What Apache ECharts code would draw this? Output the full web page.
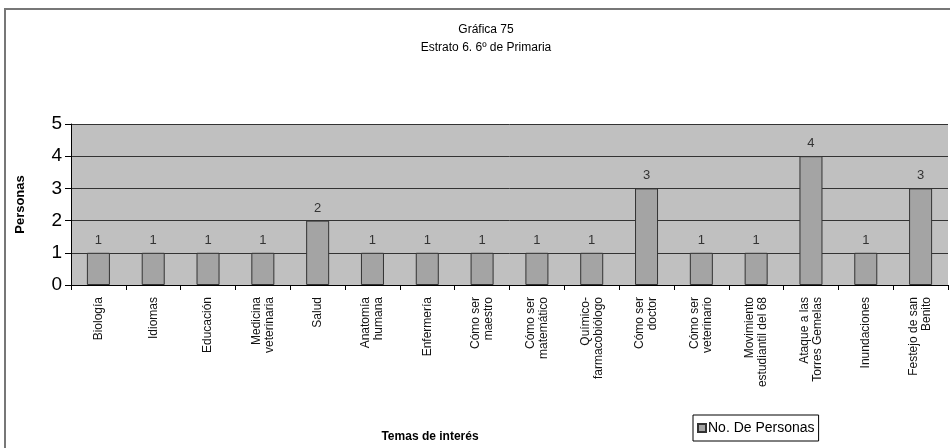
<!DOCTYPE html>
<html>
<head>
<meta charset="utf-8">
<script src="https://cdn.jsdelivr.net/npm/echarts@6/dist/echarts.min.js"></script>
<style>
html, body { margin:0; padding:0; background:#fff; }
#chart { width:950px; height:448px; }
</style>
</head>
<body>
<div id="chart"></div>
<script>
// Temas de interés
var temas = [
	'Biología', 'Idiomas', 'Educación', 'Medicina\nveterinaria', 'Salud',
	'Anatomía\nhumana', 'Enfermería', 'Cómo ser\nmaestro', 'Cómo ser\nmatemático',
	'Químico-\nfarmacobiólogo', 'Cómo ser\ndoctor', 'Cómo ser\nveterinario',
	'Movimiento\nestudiantil del 68', 'Ataque a las\nTorres Gemelas', 'Inundaciones',
	'Festejo de san\nBenito'
];
// No. De Personas
var personas = [1, 1, 1, 1, 2, 1, 1, 1, 1, 1, 3, 1, 1, 4, 1, 3];
var y_ticks = [0, 1, 2, 3, 4, 5];

var font = 'Liberation Sans, Arial, sans-serif';

var myChart = echarts.init(document.getElementById('chart'));
myChart.setOption({
	animation : false,
	title : {
		text : 'Gráfica 75\nEstrato 6. 6º de Primaria',
		left : 481,
		top : 16,
		textAlign : 'center',
		textStyle : { fontFamily:font, fontSize:12, fontWeight:'normal', color:'#000', lineHeight:18 }
	},
	legend : {
		left : 693,
		top : 415,
		orient : 'horizontal',
		borderColor : '#000',
		borderWidth : 1,
		padding : [6, 4, 6, 4],
		icon : 'rect',
		itemWidth : 8,
		itemHeight : 8,
		itemGap : 2,
		textStyle : { fontFamily:font, fontSize:14, color:'#000', padding:[0,0,0,-3] },
		data : ['No. De Personas']
	},
	graphic : [
		{
			type : 'rect',
			shape : { x:5, y:9, width:1200, height:1200 },
			style : { fill:'none', stroke:'#777', lineWidth:2 },
			z : -1
		},
		{
			type : 'text',
			x : 430,
			y : 437,
			style : { text:'Temas de interés', font:'bold 12px ' + font, fill:'#000', textAlign:'center', textVerticalAlign:'middle' }
		}
	],
	grid : {
		left : 71,
		right : 2,
		top : 124,
		bottom : 163,
		show : true,
		backgroundColor : '#c0c0c0',
		borderWidth : 0
	},
	xAxis : {
		type : 'category',
		data : temas,
		boundaryGap : true,
		axisLine : { show:true, lineStyle:{ color:'#000', width:1 } },
		axisTick : { show:true, length:5, lineStyle:{ color:'#000' } },
		axisLabel : {
			rotate : 90,
			interval : 0,
			margin : 12,
			fontFamily : font,
			fontSize : 12,
			lineHeight : 13,
			color : '#111'
		}
	},
	yAxis : {
		type : 'value',
		min : y_ticks[0],
		max : y_ticks[y_ticks.length - 1],
		interval : 1,
		name : 'Personas',
		nameLocation : 'middle',
		nameGap : 44,
		nameRotate : 90,
		nameTextStyle : { fontFamily:font, fontSize:13, fontWeight:'bold', color:'#000' },
		axisLine : { show:true, lineStyle:{ color:'#000', width:1 } },
		axisTick : { show:true, length:6, lineStyle:{ color:'#000' } },
		axisLabel : { fontFamily:font, fontSize:19, color:'#000', margin:9 },
		splitLine : { show:true, lineStyle:{ color:'#333', width:1 } }
	},
	series : [
		{
			name : 'No. De Personas',
			type : 'bar',
			data : personas,
			barWidth : '42%',
			itemStyle : { color:'#a4a4a4', borderColor:'#333', borderWidth:1 },
			label : {
				show : true,
				position : 'top',
				distance : 6,
				fontFamily : font,
				fontSize : 13,
				color : '#333'
			}
		}
	]
});
</script>
</body>
</html>
